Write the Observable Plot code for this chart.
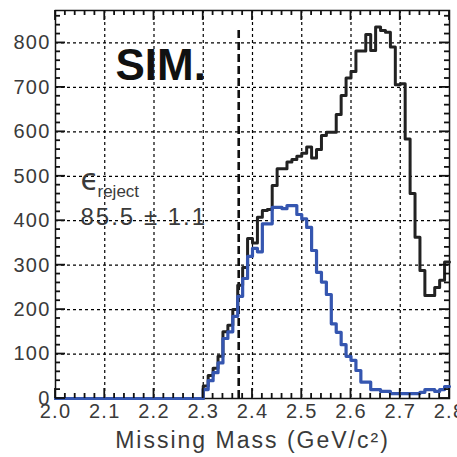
<!DOCTYPE html>
<html>
<head>
<meta charset="utf-8">
<script src="https://cdn.jsdelivr.net/npm/d3@7"></script>
<script src="https://cdn.jsdelivr.net/npm/@observablehq/plot@0.6"></script>
<style>
  html, body { margin: 0; padding: 0; background: #fff; }
  svg { display: block; }
</style>
</head>
<body>
<div id="chart"></div>
<script>
// Missing-mass histograms, 0.01 GeV/c^2 bins from 2.0 to 2.8
const binStart = 2.0;
const binWidth = 0.01;

// all simulated events (black)
const allEvents = [
  0, 0, 0, 0, 0, 0, 0, 0, 0, 0,
  0, 0, 0, 0, 0, 0, 0, 0, 0, 0,
  0, 0, 0, 0, 0, 0, 0, 0, 0, 0,
  28, 52, 68, 95, 150, 165, 200, 255, 295, 360,
  350, 408, 423, 425, 479, 517, 517, 532, 538, 545,
  552, 566, 541, 560, 592, 599, 599, 639, 682, 721,
  736, 782, 782, 819, 783, 836, 828, 824, 791, 706,
  708, 584, 461, 363, 288, 232, 232, 250, 266, 307
];

// events kept after the rejection cut (blue)
const afterCut = [
  0, 0, 0, 0, 0, 0, 0, 0, 0, 0,
  0, 0, 0, 0, 0, 0, 0, 0, 0, 0,
  0, 0, 0, 0, 0, 0, 0, 0, 0, 0,
  20, 40, 58, 80, 135, 150, 185, 230, 270, 320,
  338, 330, 393, 393, 430, 430, 427, 434, 434, 414,
  404, 385, 333, 284, 262, 234, 168, 149, 121, 95,
  86, 63, 37, 37, 20, 20, 16, 16, 11, 11,
  11, 11, 11, 11, 14, 20, 20, 16, 20, 27
];

// cut position and the height of its marker line
const cutValue = 2.372;
const cutLineTop = 830;

// axes
const xDomain = [2.0, 2.8];
const yDomain = [0, 873];
const xTicks = [2.0, 2.1, 2.2, 2.3, 2.4, 2.5, 2.6, 2.7, 2.8];
const xTickLabels = ["2.0", "2.1", "2.2", "2.3", "2.4", "2.5", "2.6", "2.7", "2.8"];
const xMinorTicks = d3.range(0, 41).map(i => 2.0 + i * 0.02);
const yTicks = [0, 100, 200, 300, 400, 500, 600, 700, 800];
const yMinorTicks = d3.range(0, 44).map(i => i * 20);

// annotations
const simLabel = "SIM.";
const effSymbol = "\u03F5";
const effSubscript = "reject";
const effValue = "85.5 \u00B1 1.1";
const xTitle = "Missing Mass (GeV/c\u00B2)";

function stepPoints(values) {
  const pts = values.map((v, i) => ({x: binStart + i * binWidth, y: v}));
  pts.push({x: binStart + values.length * binWidth, y: values[values.length - 1]});
  return pts;
}

const W = 457, H = 457;
const mL = 55, mR = 8, mT = 10, mB = 59;

const grey = "#3a3a3a";
const gridStyle = {stroke: "#000", strokeOpacity: 1, strokeWidth: 1.2, strokeDasharray: "3,3"};

const chart = Plot.plot({
  width: W,
  height: H,
  marginLeft: mL,
  marginRight: mR,
  marginTop: mT,
  marginBottom: mB,
  x: {domain: xDomain, label: null},
  y: {domain: yDomain, label: null},
  style: {fontFamily: "'Liberation Sans', Arial, sans-serif", background: "#fff"},
  marks: [
    Plot.gridX(xTicks.slice(1, -1), gridStyle),
    Plot.gridY(yTicks.slice(1), gridStyle),
    Plot.frame({stroke: "#111", strokeWidth: 1.5}),
    Plot.ruleX([cutValue], {y1: 0, y2: cutLineTop, stroke: "#111", strokeWidth: 2.6, strokeDasharray: "8,4"}),
    Plot.line(stepPoints(allEvents), {x: "x", y: "y", curve: "step-after", stroke: "#222", strokeWidth: 3}),
    Plot.line(stepPoints(afterCut), {x: "x", y: "y", curve: "step-after", stroke: "#3556b0", strokeWidth: 3.2}),
    // tick labels
    Plot.axisX(xTicks, {anchor: "bottom", tickSize: 0, tickPadding: 5, tickFormat: (d, i) => xTickLabels[i], label: null, fontSize: 20, fill: grey}),
    Plot.axisY(yTicks, {anchor: "left", tickSize: 0, tickPadding: 5, tickFormat: d => String(d), label: null, fontSize: 20, fill: grey}),
    // annotations
    Plot.text([simLabel], {frameAnchor: "top-left", dx: 60, dy: 55, text: d => d, textAnchor: "start", lineAnchor: "middle", fontSize: 44, fontWeight: "bold", fill: "#111"}),
    Plot.text([effSymbol], {frameAnchor: "top-left", dx: 25, dy: 170, text: d => d, textAnchor: "start", lineAnchor: "middle", fontSize: 30, fill: grey, fontFamily: "DejaVu Sans"}),
    Plot.text([effSubscript], {frameAnchor: "top-left", dx: 42, dy: 181, text: d => d, textAnchor: "start", lineAnchor: "middle", fontSize: 17, fill: grey}),
    Plot.text([effValue], {frameAnchor: "top-left", dx: 25, dy: 207, text: d => d, textAnchor: "start", lineAnchor: "middle", fontSize: 24, fill: grey}),
    Plot.text([xTitle], {frameAnchor: "bottom", dy: 42, text: d => d, textAnchor: "middle", lineAnchor: "middle", fontSize: 23, fill: grey})
  ]
});

// inward tick marks on all four sides, placed with the chart's own scales
const sx = chart.scale("x"), sy = chart.scale("y");
const frameLeft = sx.apply(xDomain[0]), frameRight = sx.apply(xDomain[1]);
const frameBottom = sy.apply(yDomain[0]), frameTop = sy.apply(yDomain[1]);
const tickLayer = d3.select(chart).append("g")
  .attr("stroke", "#111").attr("stroke-width", 1.8);
for (const v of xMinorTicks) {
  const len = xTicks.some(t => Math.abs(t - v) < 1e-9) ? 10 : 5;
  const px = sx.apply(v);
  tickLayer.append("line").attr("x1", px).attr("x2", px).attr("y1", frameBottom).attr("y2", frameBottom - len);
  tickLayer.append("line").attr("x1", px).attr("x2", px).attr("y1", frameTop).attr("y2", frameTop + len);
}
for (const v of yMinorTicks) {
  const len = yTicks.includes(v) ? 10 : 5;
  const py = sy.apply(v);
  tickLayer.append("line").attr("y1", py).attr("y2", py).attr("x1", frameLeft).attr("x2", frameLeft + len);
  tickLayer.append("line").attr("y1", py).attr("y2", py).attr("x1", frameRight).attr("x2", frameRight - len);
}

// wider letter spacing for the axis lettering and the efficiency value
const spacing = new Map([[xTitle, "2px"], [effValue, "2px"]]);
d3.select(chart).selectAll('g[aria-label="x-axis tick label"] text, g[aria-label="y-axis tick label"] text')
  .style("letter-spacing", "1.2px");
d3.select(chart).selectAll("text").each(function() {
  const s = spacing.get(this.textContent);
  if (s) this.style.letterSpacing = s;
});

document.getElementById("chart").appendChild(chart);
</script>
</body>
</html>
